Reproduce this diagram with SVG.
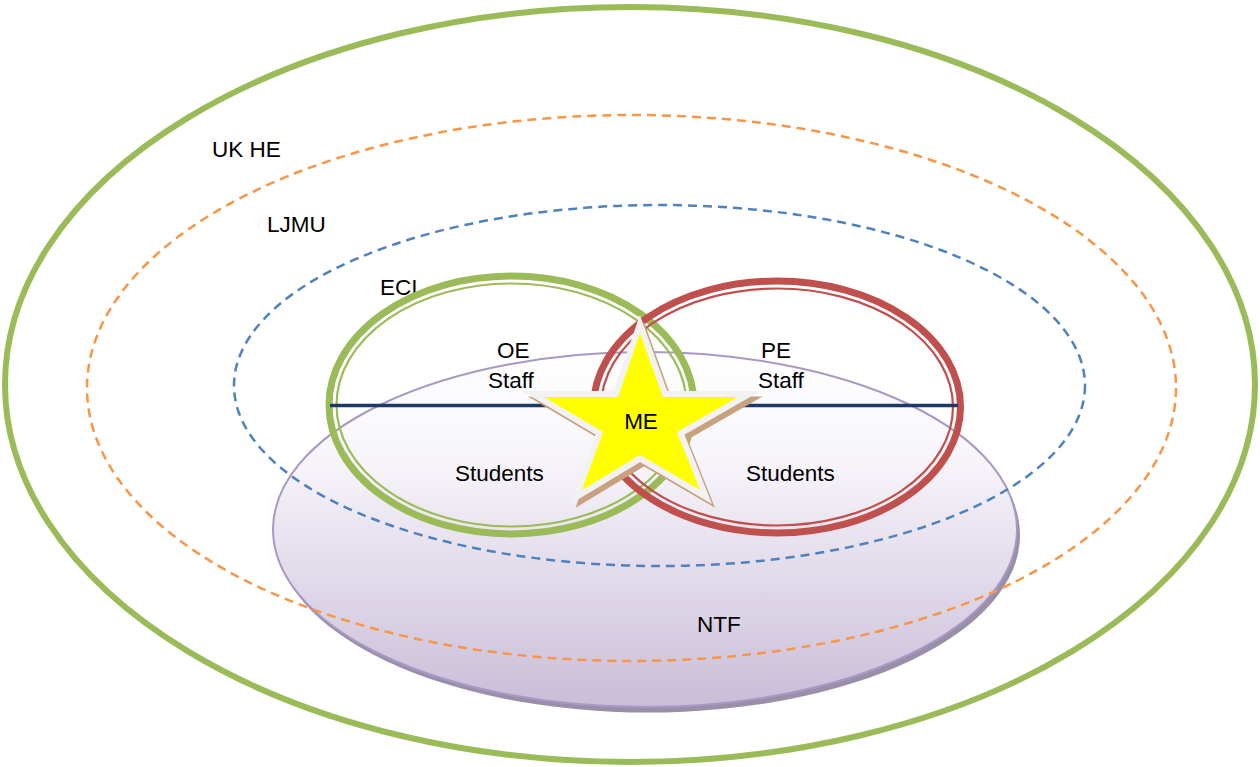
<svg xmlns="http://www.w3.org/2000/svg" width="1260" height="767" viewBox="0 0 1260 767">
<style>
.t{font-family:"Liberation Sans",Arial,sans-serif;font-size:22.5px;fill:#000}
.dash{fill:none;stroke-width:2.5;stroke-dasharray:9 6}
</style>
<defs>
<linearGradient id="ntfg" x1="0" y1="0" x2="0" y2="1">
<stop offset="0" stop-color="#ffffff"/>
<stop offset="0.3" stop-color="#f7f5fa"/>
<stop offset="1" stop-color="#c9bdd8"/>
</linearGradient>
</defs>
<rect width="1260" height="767" fill="#ffffff"/>
<g id="ukhe">
<ellipse cx="630" cy="384.5" rx="625" ry="377.5" fill="none" stroke="#9bbb59" stroke-width="6"/>
<text class="t" x="212" y="157">UK HE</text>
</g>
<g id="ntf">
<ellipse cx="648" cy="535" rx="372" ry="177.5" fill="#9a8fa8"/>
<ellipse cx="645" cy="529.5" rx="372" ry="177.5" fill="url(#ntfg)" stroke="#a898c4" stroke-width="2"/>
<text class="t" x="697" y="632">NTF</text>
</g>
<g id="ljmu">
<ellipse cx="631.5" cy="388" rx="544.5" ry="273" class="dash" stroke="#f79646"/>
<text class="t" x="267" y="232">LJMU</text>
</g>
<g id="eci">
<ellipse cx="659.5" cy="385.5" rx="425.5" ry="180.5" class="dash" stroke="#4f81bd"/>
<text class="t" x="380" y="295">ECI</text>
</g>
<g id="oe">
<ellipse cx="511.5" cy="405" rx="182.5" ry="129" fill="none" stroke="#9bbb59" stroke-width="7"/>
<ellipse cx="511.5" cy="405" rx="175" ry="121.5" fill="none" stroke="#9bbb59" stroke-width="2.2"/>
<text class="t" x="497" y="358">OE</text>
<text class="t" x="488" y="388">Staff</text>
<text class="t" x="455" y="481">Students</text>
</g>
<g id="pe">
<ellipse cx="777" cy="407" rx="183.5" ry="126" fill="none" stroke="#c0504d" stroke-width="7"/>
<ellipse cx="777" cy="407" rx="176" ry="118.5" fill="none" stroke="#c0504d" stroke-width="2.2"/>
<text class="t" x="761" y="358">PE</text>
<text class="t" x="758" y="388">Staff</text>
<text class="t" x="746" y="481">Students</text>
</g>
<g id="connectors">
<line x1="330" y1="405.5" x2="958" y2="405.5" stroke="#1f3864" stroke-width="3.5"/>
</g>
<g id="me">
<polygon points="640,333 663,397 738,397 677,432 700,490 640,455 582,490 603,432 544,397 618,397" transform="translate(4,5)" fill="#c8a27f" stroke="#c8a27f" stroke-width="11" stroke-linejoin="miter" stroke-miterlimit="10"/>
<polygon points="640,333 663,397 738,397 677,432 700,490 640,455 582,490 603,432 544,397 618,397" fill="#ffff00" stroke="#f2f2f2" stroke-width="12" stroke-linejoin="miter" stroke-miterlimit="10" paint-order="stroke"/>
<text class="t" x="641" y="429" text-anchor="middle">ME</text>
</g>
</svg>
